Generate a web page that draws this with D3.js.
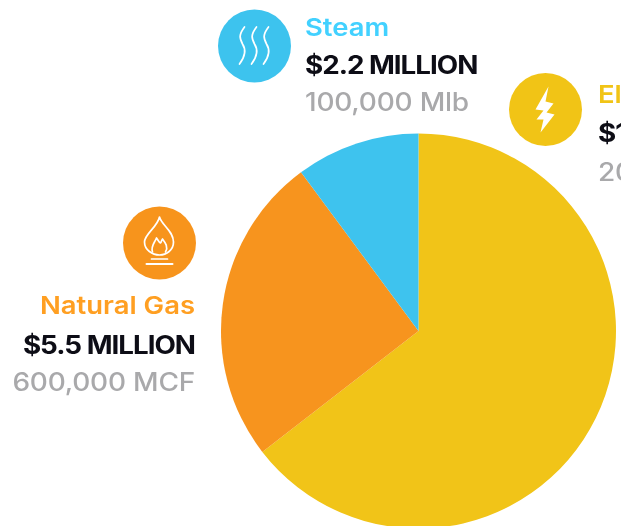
<!DOCTYPE html>
<html><head><meta charset="utf-8">
<script src="https://cdn.jsdelivr.net/npm/d3@7"></script>
<style>html,body{margin:0;padding:0;background:#fff;overflow:hidden}svg{display:block}
text{font-family:Inter,"Open Sans",sans-serif}</style></head>
<body><div id="c"></div>
<script>
const categories=["Electricity","Natural Gas","Steam"];
const costs=[14.0,5.5,2.2];
const costLabels=["$14.0 MILLION","$5.5 MILLION","$2.2 MILLION"];
const volumeLabels=["200,000 MWh","600,000 MCF","100,000 Mlb"];
const colors=["#f1c418","#f7941e","#3ec3ee"];
const W=621,H=526;
const svg=d3.select("#c").append("svg").attr("width",W).attr("height",H);
const defs=svg.append("defs");
defs.append("filter").attr("id","soft").append("feGaussianBlur").attr("stdDeviation",0.6);
const pie=d3.pie().sort(null).value(d=>d);
const arc=d3.arc().innerRadius(0).outerRadius(197.5);
svg.append("g").attr("transform","translate(418.5,331)")
  .selectAll("path").data(pie(costs)).join("path")
  .attr("d",arc).attr("fill",(d,i)=>colors[i]);
const layout=[
 {cx:545.5,cy:109.5,x:598,anchor:"start",y:[103,142,181]},
 {cx:159.5,cy:243,x:195,anchor:"end",y:[314,354,391]},
 {cx:254.5,cy:46,x:305,anchor:"start",y:[36,74,111]}
];
const stretch=(sel,k)=>sel.each(function(){
  const n=this.getComputedTextLength();
  d3.select(this).attr("textLength",n*k).attr("lengthAdjust","spacingAndGlyphs");
});
const lab=svg.append("g").attr("filter","url(#soft)");
categories.forEach((c,i)=>{
  const L=layout[i];
  const g=lab.append("g");
  g.append("circle").attr("cx",L.cx).attr("cy",L.cy).attr("r",36.5).attr("fill",colors[i]);
  const ic=g.append("g").attr("transform",`translate(${L.cx},${L.cy})`);
  if(i===0){
    ic.append("path").attr("fill","#fff").attr("d","M3,-23 L-10,0 L-2,1 L-9,10 L-2,10 L-5,23 L9,5 L1,3 L8,-6 L0,-8 Z");
  }else if(i===1){
    const s=ic.append("g").attr("fill","none").attr("stroke","#fff").attr("stroke-width",1.7).attr("stroke-linecap","round").attr("stroke-linejoin","round");
    s.append("path").attr("d","M0,-26 C2,-18 14,-12 14,-1 C14,7 7,12 0,12 C-7,12 -15,7 -15,-1 C-15,-9 -2,-16 0,-26 Z");
    s.append("path").attr("d","M-7,9 C-9,3 -5,0 -3,-5 C-1,-2 0,0 1,0 C2,-1 2,-3 3,-4 C6,0 9,4 6,9");
    s.append("path").attr("d","M-8,16 H8");
    s.append("path").attr("d","M-13,21 H13").attr("stroke-width",2);
  }else{
    const s=ic.append("g").attr("fill","none").attr("stroke","#fff").attr("stroke-width",1.7).attr("stroke-linecap","round");
    [-12,0,12].forEach(dx=>{
      s.append("path").attr("transform",`translate(${dx},0)`)
       .attr("d","M2,-19 C-4,-11 -3,-8 0,-2 C4,4 3,10 -3,18");
    });
  }
  const t=g.append("g").attr("text-anchor",L.anchor);
  t.append("text").attr("x",L.x).attr("y",L.y[0]).attr("font-size",24.5).attr("font-weight",600).attr("fill",i===0?colors[0]:d3.color(colors[i]).brighter(0.2)).text(c).call(stretch,1.12);
  t.append("text").attr("x",L.x).attr("y",L.y[1]).attr("font-size",25).attr("font-weight",700).attr("letter-spacing",-0.9).attr("fill","#0b0b14").text(costLabels[i]).call(stretch,1.11);
  t.append("text").attr("x",L.x).attr("y",L.y[2]).attr("font-size",25).attr("font-weight",500).attr("letter-spacing",-0.2).attr("fill","#a9a9ab").text(volumeLabels[i]).call(stretch,1.12);
});
</script></body></html>
